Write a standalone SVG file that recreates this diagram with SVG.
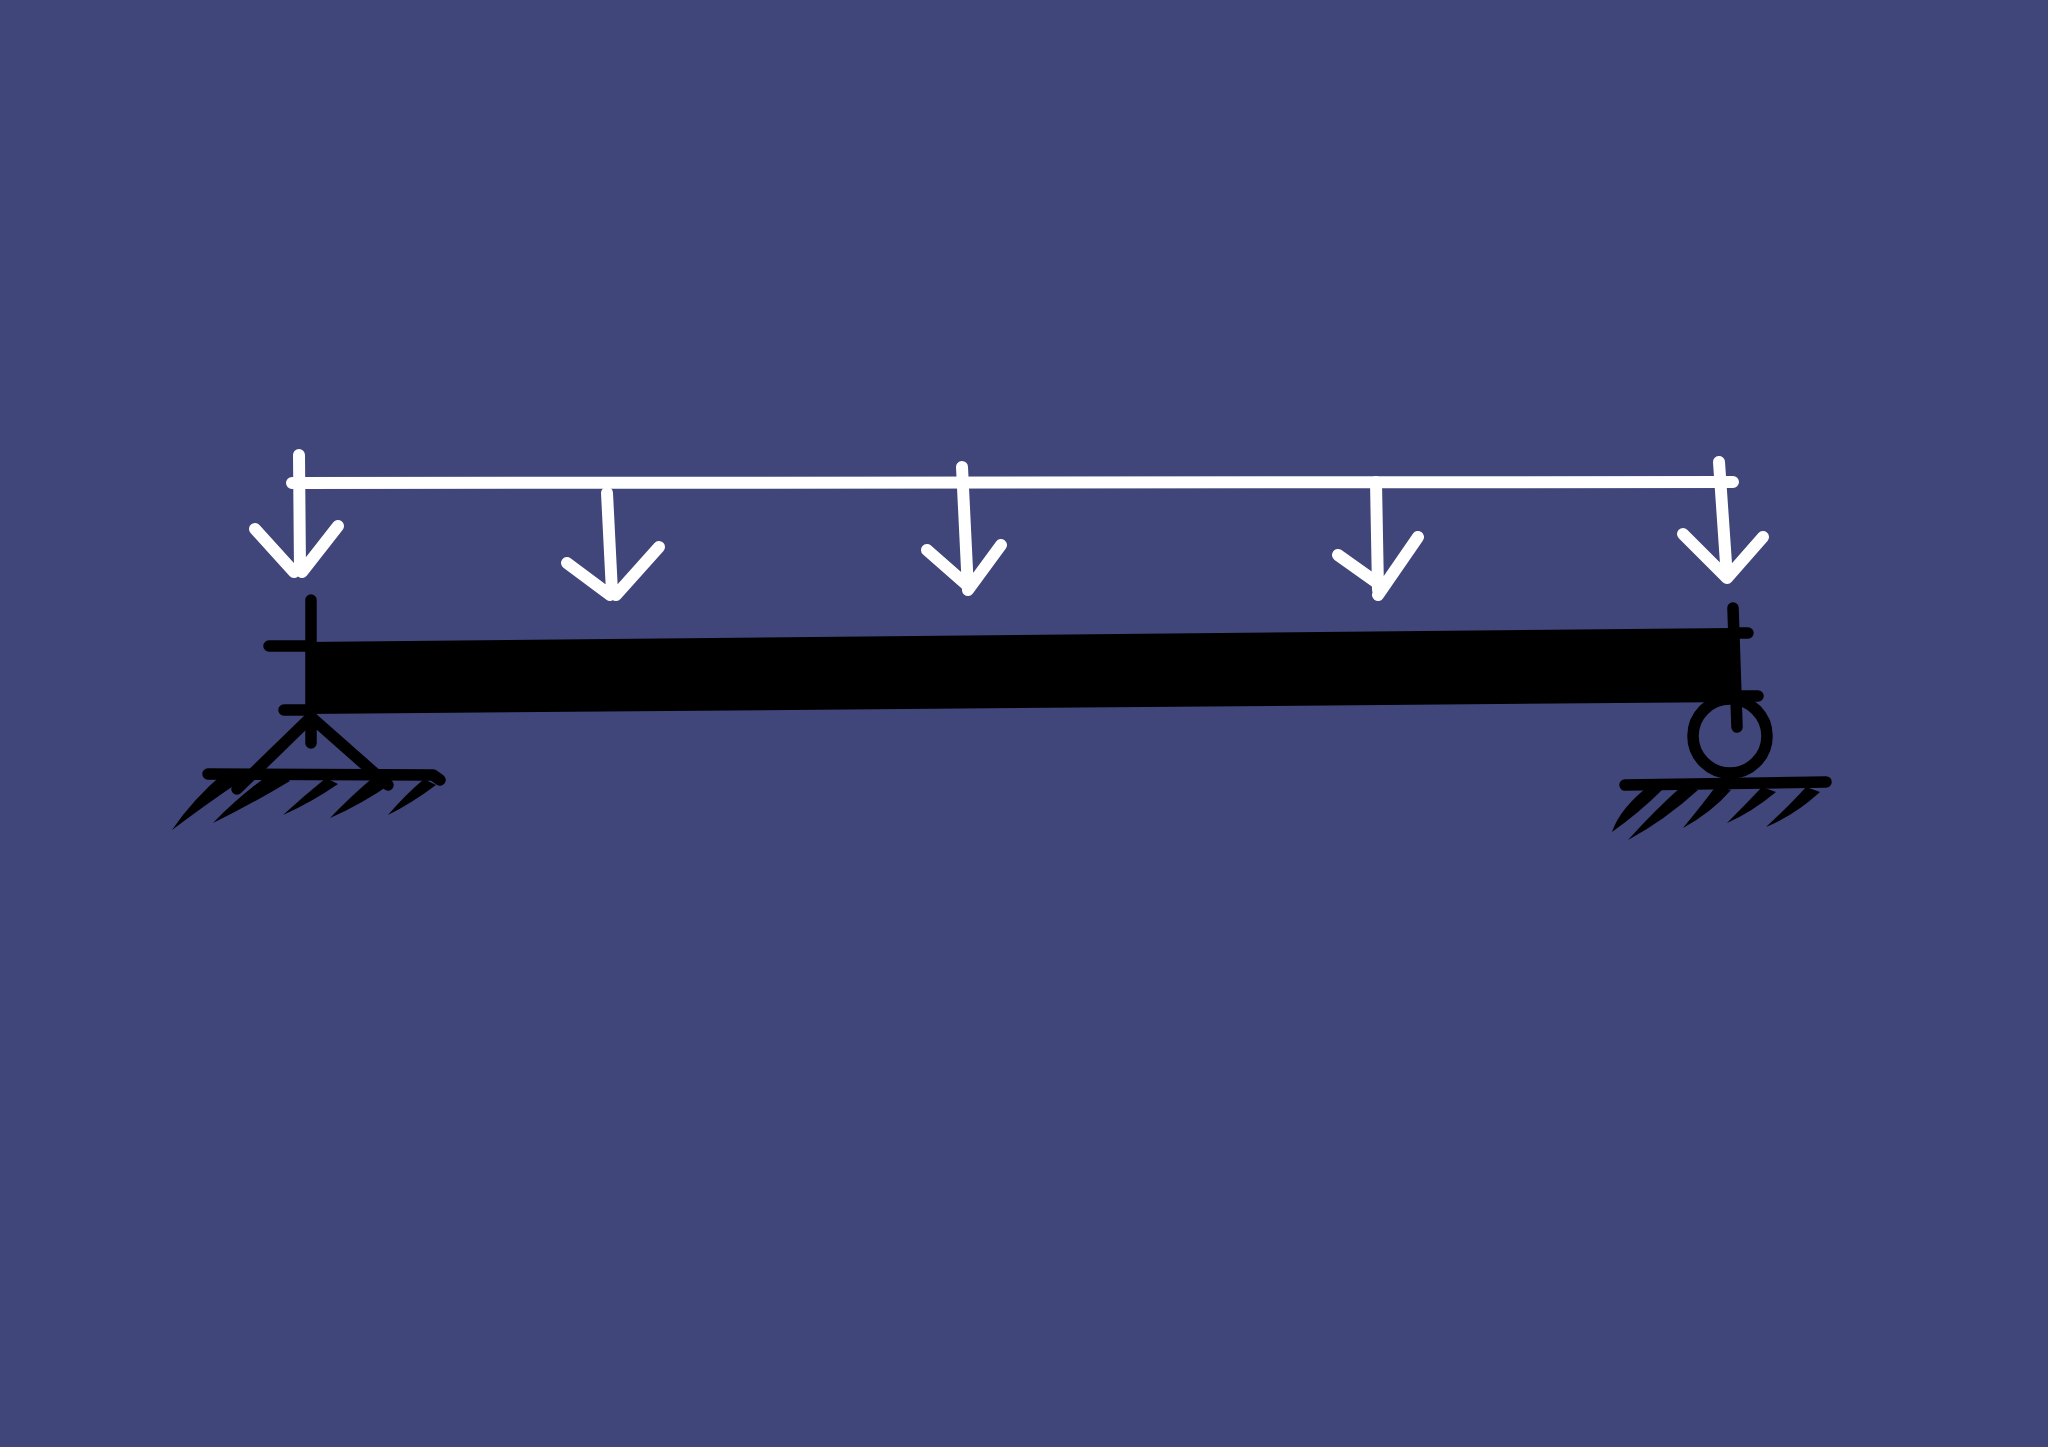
<svg xmlns="http://www.w3.org/2000/svg" width="2048" height="1447" viewBox="0 0 2048 1447">
<style>
.w{fill:none;stroke:#ffffff;stroke-width:12;stroke-linecap:round;stroke-linejoin:round}
.k{fill:none;stroke:#000000;stroke-width:11.500;stroke-linecap:round;stroke-linejoin:round}
.h{fill:#000000;stroke:none}
</style>
<rect width="2048" height="1447" fill="#40457a"/>
<g id="beam"><path d="M306 642L1734 628L1741 702L306 714Z" fill="#000000"/>
<path class="k" d="M311 600L311 743M269 646L311 646M284 710L311 710M1733 608L1737 727M1733 633L1748 633M1741 696L1758 696"/></g>
<g id="load-line"><path class="w" d="M292 483L1733 482"/></g>
<g id="connectors">
<g id="arrow-1"><path class="w" d="M299 455L300 570M255 529L294 572M338 526L302 572"/></g>
<g id="arrow-2"><path class="w" d="M607 493L612 592M567 563L610 595M659 547L616 595"/></g>
<g id="arrow-3"><path class="w" d="M962 467L968 590M927 550L968 586M1001 545L968 590"/></g>
<g id="arrow-4"><path class="w" d="M1376 482L1378 590M1338 555L1376 582M1418 537L1378 595"/></g>
<g id="arrow-5"><path class="w" d="M1719 462L1727 578M1683 534L1727 578M1763 537L1727 578"/></g>
</g>
<g id="pin-support"><path class="k" d="M311 717L237 789M311 717L388 785"/><path class="k" d="M208 774L433 775L440 780"/>
<circle cx="233" cy="776" r="6.500" class="h"/><circle cx="282" cy="776" r="6.500" class="h"/>
<path class="h" d="M172 830Q192 800 226 771L242 780Q205 805 172 830Z"/><path class="h" d="M213 823Q240 795 274 771L290 781Q250 805 213 823Z"/><path class="h" d="M283 815Q305 795 326 778L338 784Q312 802 283 815Z"/><path class="h" d="M330 818Q352 795 376 775L392 783Q362 804 330 818Z"/><path class="h" d="M388 815Q405 795 424 779L436 785Q412 803 388 815Z"/></g>
<g id="roller-support"><circle cx="1730" cy="736" r="37" class="k"/>
<path class="k" d="M1625 785L1826 782"/>
<path class="h" d="M1612 832Q1620 808 1650 785L1662 790Q1640 812 1612 832Z"/><path class="h" d="M1628 840Q1655 810 1682 786L1698 790Q1665 820 1628 840Z"/><path class="h" d="M1683 828Q1702 805 1716 786L1731 790Q1712 812 1683 828Z"/><path class="h" d="M1727 823Q1745 805 1762 787L1776 792Q1752 812 1727 823Z"/><path class="h" d="M1766 827Q1790 805 1806 787L1820 792Q1795 815 1766 827Z"/></g>
</svg>
